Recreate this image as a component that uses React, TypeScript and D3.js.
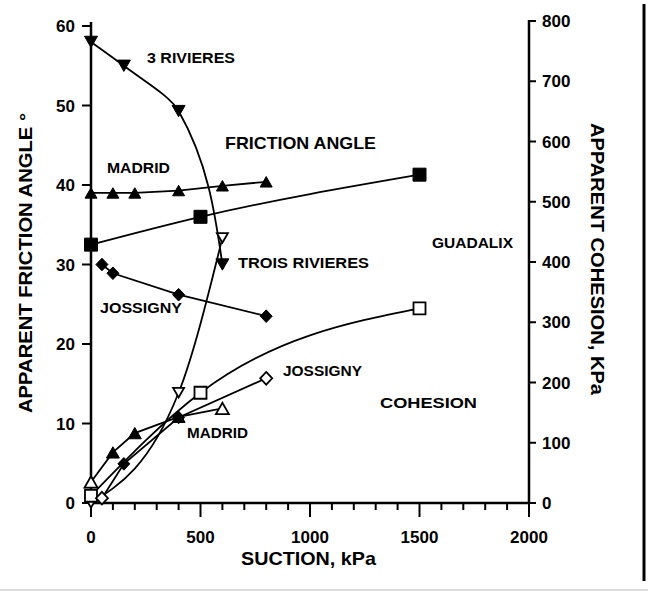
import React from 'react';
import * as d3 from 'd3';

// ---------- data ----------
// Friction angle (left axis, degrees) – filled markers
const trFricX = [0, 150, 400, 600];
const trFricY = [58, 55, 49.3, 30];
const madFricX = [0, 100, 200, 400, 600, 800];
const madFricY = [39, 39, 39, 39.3, 39.9, 40.4];
const guaFricX = [0, 500, 1500];
const guaFricY = [32.5, 36, 41.3];
const jossFricX = [50, 100, 400, 800];
const jossFricY = [30, 28.9, 26.2, 23.5];

// Cohesion (right axis, kPa) – open markers
const trCohX = [0, 400, 600];
const trCohY = [0, 183, 440];
const guaCohX = [0, 500, 1500];
const guaCohY = [12, 183, 323];
const madCohX = [0, 100, 200, 400, 600];
const madCohY = [35, 84, 116, 143, 157];
const madCohSolid = [false, true, true, true, false];
const jossCohX = [50, 150, 400, 800];
const jossCohY = [8, 65, 142, 207];
const jossCohSolid = [false, true, true, false];

const xTicks = [0, 500, 1000, 1500, 2000];
const xMinor = d3.range(0, 2001, 100);
const yLTicks = [0, 10, 20, 30, 40, 50, 60];
const yRTicks = [0, 100, 200, 300, 400, 500, 600, 700, 800];

const labels = [
  { text: '3 RIVIERES', cx: 191, cy: 58, w: 88, fs: 14 },
  { text: 'FRICTION ANGLE', cx: 300.5, cy: 143, w: 151, fs: 17 },
  { text: 'MADRID', cx: 138.5, cy: 168, w: 63, fs: 14 },
  { text: 'TROIS RIVIERES', cx: 303.5, cy: 263, w: 131, fs: 14 },
  { text: 'GUADALIX', cx: 472.5, cy: 243, w: 81, fs: 14 },
  { text: 'JOSSIGNY', cx: 141, cy: 308, w: 82, fs: 14 },
  { text: 'JOSSIGNY', cx: 322.5, cy: 371, w: 79, fs: 14 },
  { text: 'COHESION', cx: 428.5, cy: 403, w: 97, fs: 15 },
  { text: 'MADRID', cx: 217.5, cy: 433, w: 61, fs: 14 },
];

// ---------- layout ----------
const W = 648, H = 594;
const X0 = 91, X1 = 529, Y0 = 503;
const x = d3.scaleLinear().domain([0, 2000]).range([X0, X1]);
const yL = d3.scaleLinear().domain([0, 60]).range([Y0, 26]);
const yR = d3.scaleLinear().domain([0, 800]).range([Y0, 21]);
const FONT = '"Liberation Sans", Arial, Helvetica, sans-serif';

type Shape = 'square' | 'up' | 'down' | 'diamond';
function markerPath(shape: Shape, s: number): string {
  const r = s / 2;
  switch (shape) {
    case 'square':
      return `M${-r},${-r}h${s}v${s}h${-s}Z`;
    case 'up': {
      const h = s * 0.87;
      return `M0,${-h / 2}L${r},${h / 2}L${-r},${h / 2}Z`;
    }
    case 'down': {
      const h = s * 0.87;
      return `M0,${h / 2}L${r},${-h / 2}L${-r},${-h / 2}Z`;
    }
    case 'diamond':
      return `M0,${-r * 1.05}L${r},0L0,${r * 1.05}L${-r},0Z`;
  }
}

interface Series {
  xs: number[];
  ys: number[];
  axis: 'L' | 'R';
  shape: Shape;
  size: number;
  solid: boolean[];
  curve: d3.CurveFactory;
}

const allTrue = (a: number[]) => a.map(() => true);
const allFalse = (a: number[]) => a.map(() => false);

const series: Series[] = [
  { xs: trFricX, ys: trFricY, axis: 'L', shape: 'down', size: 13, solid: allTrue(trFricX), curve: d3.curveMonotoneY },
  { xs: madFricX, ys: madFricY, axis: 'L', shape: 'up', size: 12, solid: allTrue(madFricX), curve: d3.curveLinear },
  { xs: guaFricX, ys: guaFricY, axis: 'L', shape: 'square', size: 13, solid: allTrue(guaFricX), curve: d3.curveMonotoneX },
  { xs: jossFricX, ys: jossFricY, axis: 'L', shape: 'diamond', size: 12, solid: allTrue(jossFricX), curve: d3.curveLinear },
  { xs: trCohX, ys: trCohY, axis: 'R', shape: 'down', size: 11, solid: allFalse(trCohX), curve: d3.curveMonotoneX },
  { xs: guaCohX, ys: guaCohY, axis: 'R', shape: 'square', size: 12, solid: allFalse(guaCohX), curve: d3.curveMonotoneX },
  { xs: madCohX, ys: madCohY, axis: 'R', shape: 'up', size: 13, solid: madCohSolid, curve: d3.curveLinear },
  { xs: jossCohX, ys: jossCohY, axis: 'R', shape: 'diamond', size: 12, solid: jossCohSolid, curve: d3.curveLinear },
];

export default function App() {
  return (
    <svg
      width={W}
      height={H}
      viewBox={`0 0 ${W} ${H}`}
      style={{ position: 'absolute', left: 0, top: 0, background: '#fff' }}
      fontFamily={FONT}
    >
      <rect x={0} y={0} width={W} height={H} fill="#fff" />

      {/* series lines */}
      {series.map((s, i) => {
        const ys = s.axis === 'L' ? yL : yR;
        const pts: [number, number][] = s.xs.map((v, j) => [x(v), ys(s.ys[j])]);
        const line = d3.line().curve(s.curve)(pts) || '';
        return <path key={'l' + i} d={line} fill="none" stroke="#000" strokeWidth={1.8} />;
      })}

      {/* axes */}
      <line x1={X0} y1={Y0} x2={X1} y2={Y0} stroke="#000" strokeWidth={2.5} />
      <line x1={X0} y1={Y0 + 1} x2={X0} y2={22} stroke="#000" strokeWidth={2.5} />
      <line x1={X1} y1={Y0 + 1} x2={X1} y2={20} stroke="#000" strokeWidth={2.5} />

      {/* x ticks */}
      {xMinor.map((t) => (
        <line key={'xm' + t} x1={x(t)} x2={x(t)} y1={Y0} y2={Y0 + (t % 500 === 0 ? 14 : 7)} stroke="#000" strokeWidth={2} />
      ))}
      {xTicks.map((t) => (
        <text key={'xt' + t} x={x(t)} y={537 + 6} textAnchor="middle" fontSize={17} fontWeight="bold">
          {t}
        </text>
      ))}

      {/* left ticks */}
      {yLTicks.map((t) => (
        <g key={'yl' + t}>
          <line x1={X0 - 9} x2={X0} y1={yL(t)} y2={yL(t)} stroke="#000" strokeWidth={2} />
          <text x={75} y={yL(t) + 6} textAnchor="end" fontSize={17} fontWeight="bold">
            {t}
          </text>
        </g>
      ))}

      {/* right ticks */}
      {yRTicks.map((t) => (
        <g key={'yr' + t}>
          <line x1={X1} x2={X1 + 7} y1={yR(t)} y2={yR(t)} stroke="#000" strokeWidth={2} />
          <text x={542} y={yR(t) + 6} textAnchor="start" fontSize={17} fontWeight="bold">
            {t}
          </text>
        </g>
      ))}

      {/* markers */}
      {series.map((s, i) => {
        const ys = s.axis === 'L' ? yL : yR;
        return s.xs.map((v, j) => (
          <path
            key={'m' + i + '_' + j}
            d={markerPath(s.shape, s.size)}
            transform={`translate(${x(v)},${ys(s.ys[j])})`}
            fill={s.solid[j] ? '#000' : '#fff'}
            stroke="#000"
            strokeWidth={s.solid[j] ? 1 : 1.8}
            strokeLinejoin="miter"
          />
        ));
      })}

      {/* annotations */}
      {labels.map((l, i) => (
        <text
          key={'lab' + i}
          x={l.cx - l.w / 2}
          y={l.cy + l.fs * 0.36}
          fontSize={l.fs}
          fontWeight="bold"
          textLength={l.w}
          lengthAdjust="spacingAndGlyphs"
        >
          {l.text}
        </text>
      ))}

      {/* axis titles */}
      <text
        x={308.5 - 67.5}
        y={558 + 7}
        fontSize={19}
        fontWeight="bold"
        textLength={135}
        lengthAdjust="spacingAndGlyphs"
      >
        SUCTION, kPa
      </text>
      <text
        transform="translate(32,263) rotate(-90)"
        x={-150}
        y={0}
        fontSize={18}
        fontWeight="bold"
        textLength={300}
        lengthAdjust="spacingAndGlyphs"
      >
        APPARENT FRICTION ANGLE °
      </text>
      <text
        transform="translate(591,259) rotate(90)"
        x={-136}
        y={0}
        fontSize={18}
        fontWeight="bold"
        textLength={272}
        lengthAdjust="spacingAndGlyphs"
      >
        APPARENT COHESION, KPa
      </text>

      {/* frame */}
      <line x1={644} x2={644} y1={4} y2={581} stroke="#000" strokeWidth={3} />
      <line x1={0} x2={W} y1={590} y2={590} stroke="#dcdcdc" strokeWidth={2} />
    </svg>
  );
}
